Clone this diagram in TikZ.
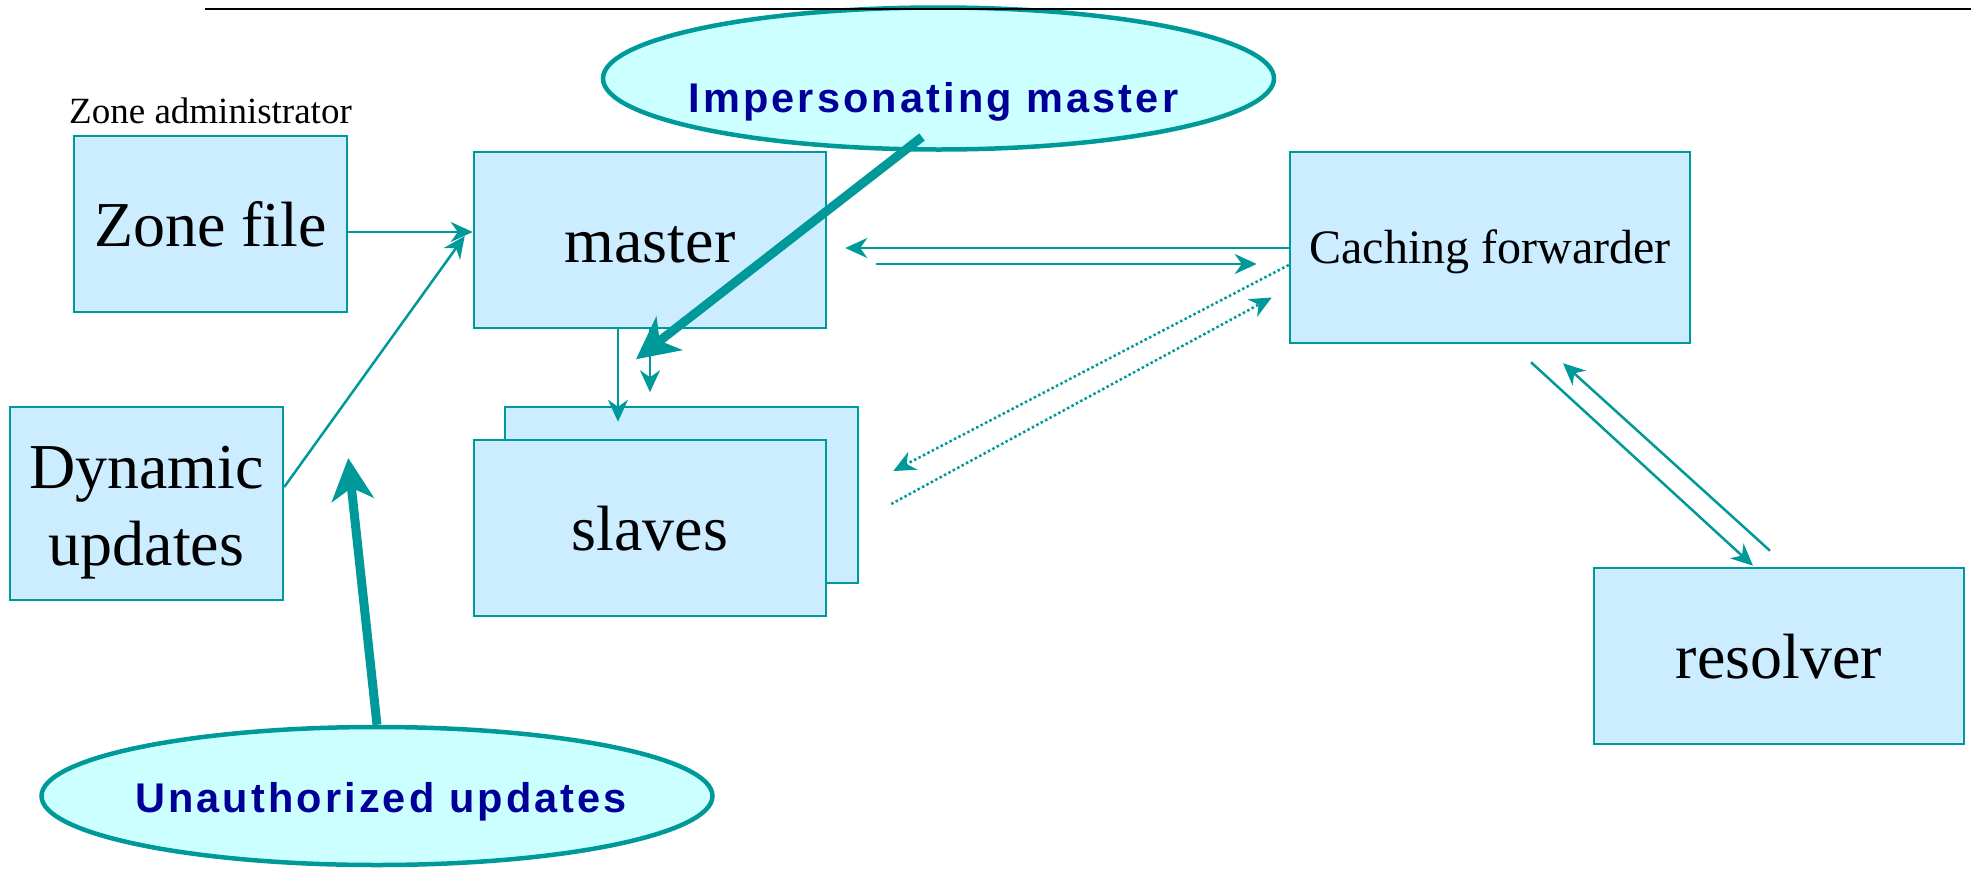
\documentclass[tikz,border=0pt]{standalone}
\usepackage{fontspec}
\setmainfont{Liberation Serif}
\newfontfamily\calloutfont[LetterSpace=7.5]{Liberation Sans}
\usetikzlibrary{arrows.meta,shapes.geometric,calc}

\definecolor{teal}{RGB}{0,153,153}
\definecolor{boxfill}{RGB}{204,236,255}
\definecolor{callfill}{RGB}{204,255,255}
\definecolor{callink}{RGB}{0,0,153}

\tikzset{
  server/.style={draw=teal, fill=boxfill, line width=2.5pt, rectangle, inner sep=0pt,
    font=\fontsize{64}{77}\selectfont, text height=58pt, text depth=14pt},
  callout/.style={draw=teal, fill=callfill, line width=4.5pt, ellipse, inner sep=0pt,
    minimum width=671pt, minimum height=142pt},
  callouttext/.style={font=\calloutfont\bfseries\fontsize{41.5}{50}\selectfont,
    text=callink, anchor=base, inner sep=0pt},
  flow/.style={draw=teal, line width=2.5pt, -{Stealth[length=22pt,width=20pt,inset=7pt]}},
  plainflow/.style={draw=teal, line width=2.5pt},
  dotflow/.style={draw=teal, line width=2.5pt, dash pattern=on 2.5pt off 2.5pt,
    -{Stealth[length=22pt,width=20pt,inset=7pt]}},
  attack/.style={draw=teal, line width=9pt, -{Stealth[length=42pt,width=42pt,inset=12pt]}}
}

\begin{document}
\begin{tikzpicture}[x=1pt,y=-1pt]
\useasboundingbox (0,0) rectangle (1971,873);

% servers
\node[server, minimum width=273pt, minimum height=176pt] (zf) at (210.5,224) {Zone file};
\node[font=\fontsize{37}{44}\selectfont, anchor=base, inner sep=0pt] (adm) at (210.5,123) {Zone administrator};
\node[server, minimum width=352pt, minimum height=176pt] (master) at (650,240) {master};
\node[server, minimum width=353pt, minimum height=176pt] (slback) at (681.5,495) {};
\node[server, minimum width=352pt, minimum height=176pt] (slaves) at (650,528) {slaves};
\node[server, minimum width=400pt, minimum height=191pt, font=\fontsize{48}{58}\selectfont,
  text height=43pt, text depth=10.5pt] (cf) at (1490,247.5) {Caching forwarder};
\node[server, minimum width=273pt, minimum height=193pt, align=center,
  text height=, text depth=] (dyn) at (146.5,503.5) {\rule{0pt}{60pt}Dynamic\\updates};
\node[server, minimum width=370pt, minimum height=176pt] (res) at (1779,656) {resolver};

% callouts
\node[callout] (imp) at (938.5,78.5) {};
\node[callouttext] (imptext) at (933.5,112.3) {Impersonating master};
\node[callout, minimum height=138pt] (unauth) at (377,796) {};
\node[callouttext] (unauthtext) at (381,812.3) {Unauthorized updates};

% zone data flows
\draw[flow] ($(zf.east)+(0,8)$) -- ($(master.west)+(0,-8)$);
\draw[flow] ($(dyn.east)+(0,-16.5)$) -- ($(master.west)+(-8,-4)$);
\draw[flow] ($(master.south)+(-32,0)$) -- ($(slback.north)+(-63.5,16)$);
\draw[flow] (master.south) -- ($(master.south)+(0,63)$);

% queries between forwarder and servers
\draw[flow] ($(cf.west)+(0,0.5)$) -- ($(master.east)+(18,8)$);
\draw[flow] ($(master.east)+(49,24)$) -- ($(cf.west)+(-32,16.5)$);
\draw[dotflow] ($(cf.west)+(0,17.5)$) -- ($(slaves.east)+(66,-57)$);
\draw[dotflow] ($(slaves.east)+(64,-24)$) -- ($(cf.west)+(-17,50)$);

% forwarder and resolver
\draw[flow] ($(cf.south)+(41,18)$) -- ($(res.north)+(-26,-1)$);
\draw[flow] ($(res.north)+(-9,-16)$) -- ($(cf.south)+(73,19)$);

% attacks
\draw[attack] ($(imp.center)+(-16.5,58.5)$) -- ($(master.south)+(-14,30)$);
\draw[attack] (unauth.north) -- ($(dyn.east)+(64,-45.5)$);

% header rule
\draw[black, line width=2pt] (205,9) -- (1971,9);
\end{tikzpicture}
\end{document}
